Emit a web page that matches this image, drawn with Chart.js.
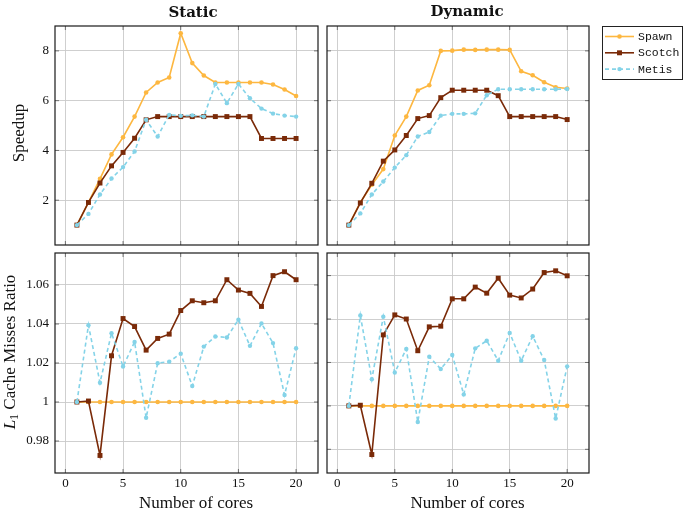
<!DOCTYPE html>
<html><head><meta charset="utf-8">
<script src="https://cdn.jsdelivr.net/npm/chart.js@4.4.1/dist/chart.umd.min.js"></script>
<style>
html,body{margin:0;padding:0;background:#fff;width:685px;height:514px;overflow:hidden}
canvas{position:absolute}
</style></head><body>
<canvas id="tl" width="322" height="249" style="left:0;top:0"></canvas>
<canvas id="tr" width="363" height="249" style="left:322px;top:0"></canvas>
<canvas id="bl" width="322" height="265" style="left:0;top:249px"></canvas>
<canvas id="br" width="363" height="265" style="left:322px;top:249px"></canvas>
<script>
// ---------- data ----------
const cores = [1,2,3,4,5,6,7,8,9,10,11,12,13,14,15,16,17,18,19,20];
const seriesNames = ['Spawn','Scotch','Metis'];
const xTickValues = [0,5,10,15,20];
const speedupTickValues = [2,4,6,8];
const l1TickValues = [0.98,1.00,1.02,1.04,1.06];

const staticSpeedupSpawn  = [1.00,1.91,2.86,3.84,4.53,5.36,6.33,6.73,6.93,8.71,7.51,7.01,6.73,6.73,6.73,6.73,6.73,6.65,6.45,6.19];
const staticSpeedupScotch = [1.00,1.91,2.69,3.38,3.92,4.49,5.23,5.36,5.36,5.36,5.36,5.36,5.36,5.36,5.36,5.36,4.48,4.48,4.48,4.48];
const staticSpeedupMetis  = [1.00,1.45,2.23,2.87,3.33,3.96,5.23,4.56,5.43,5.39,5.41,5.36,6.67,5.90,6.67,6.10,5.68,5.48,5.40,5.36];

const dynamicSpeedupSpawn  = [1.00,1.91,2.62,3.25,4.60,5.36,6.41,6.62,8.00,8.01,8.05,8.04,8.05,8.05,8.04,7.18,7.02,6.74,6.54,6.49];
const dynamicSpeedupScotch = [1.00,1.89,2.68,3.57,4.02,4.60,5.28,5.40,6.12,6.42,6.42,6.42,6.42,6.20,5.36,5.36,5.36,5.36,5.36,5.24];
const dynamicSpeedupMetis  = [1.00,1.47,2.23,2.75,3.31,3.81,4.56,4.74,5.40,5.47,5.47,5.49,6.22,6.46,6.46,6.46,6.46,6.46,6.46,6.47];

const staticL1Spawn  = [1,1,1,1,1,1,1,1,1,1,1,1,1,1,1,1,1,1,1,1];
const staticL1Scotch = [1.0000,1.0005,0.9726,1.0237,1.0428,1.0387,1.0266,1.0326,1.0348,1.0469,1.0519,1.0509,1.0519,1.0627,1.0574,1.0557,1.0490,1.0648,1.0668,1.0627];
const staticL1Metis  = [1.0000,1.0394,1.0099,1.0353,1.0182,1.0308,0.9919,1.0199,1.0207,1.0248,1.0082,1.0284,1.0336,1.0331,1.0422,1.0288,1.0403,1.0302,1.0036,1.0276];

const dynamicL1Spawn  = [1,1,1,1,1,1,1,1,1,1,1,1,1,1,1,1,1,1,1,1];
const dynamicL1Scotch = [1.0000,1.0003,0.9776,1.0327,1.0419,1.0400,1.0254,1.0364,1.0367,1.0493,1.0493,1.0547,1.0519,1.0588,1.0510,1.0497,1.0538,1.0614,1.0622,1.0599];
const dynamicL1Metis  = [1.0000,1.0416,1.0123,1.0411,1.0154,1.0262,0.9926,1.0226,1.0170,1.0234,1.0053,1.0265,1.0300,1.0208,1.0336,1.0208,1.0321,1.0211,0.9942,1.0182];

// ---------- styles ----------
const C_SPAWN = '#FDB740';
const C_SCOTCH = '#7A2A08';
const C_METIS = '#84D3E8';
const GRID = '#CACACA';
const TICKFONT = {family:'"Liberation Serif", serif', size:13};
const LABELFONT = '17px "Liberation Serif", serif';

const styles = {
  Spawn:  {color:C_SPAWN,  pointStyle:'circle', radius:2.3, dash:[],    order:2},
  Scotch: {color:C_SCOTCH, pointStyle:'rect',   radius:3.5, dash:[],    order:1},
  Metis:  {color:C_METIS,  pointStyle:'circle', radius:2.2, dash:[4,3], order:0}
};

function makeDataset(name, values){
  const s = styles[name];
  return {
    label:name,
    data: cores.map((c,i)=>({x:c, y:values[i]})),
    borderColor:s.color, backgroundColor:s.color,
    pointBackgroundColor:s.color, pointBorderColor:s.color,
    pointStyle:s.pointStyle, pointRadius:s.radius, pointBorderWidth:0,
    borderWidth:1.6, borderDash:s.dash, tension:0, order:s.order, fill:false
  };
}

// plugin: border, inward ticks, free text, legend
const panelDecor = {
  id:'panelDecor',
  afterDraw(chart, args, opts){
    const ctx = chart.ctx, a = chart.chartArea;
    const xs = chart.scales.x, ys = chart.scales.y;
    ctx.save();
    // inward ticks
    ctx.strokeStyle = '#555'; ctx.lineWidth = 0.8;
    ctx.beginPath();
    xs.ticks.forEach(t=>{
      const px = xs.getPixelForValue(t.value);
      ctx.moveTo(px, a.bottom); ctx.lineTo(px, a.bottom-4);
      ctx.moveTo(px, a.top); ctx.lineTo(px, a.top+4);
    });
    ys.ticks.forEach(t=>{
      const py = ys.getPixelForValue(t.value);
      ctx.moveTo(a.left, py); ctx.lineTo(a.left+4, py);
      ctx.moveTo(a.right, py); ctx.lineTo(a.right-4, py);
    });
    ctx.stroke();
    // border
    ctx.strokeStyle = '#1a1a1a'; ctx.lineWidth = 1.2;
    ctx.strokeRect(a.left, a.top, a.right-a.left, a.bottom-a.top);
    // texts
    (opts.texts||[]).forEach(t=>{
      ctx.save();
      ctx.translate(t.x, t.y);
      if (t.rot) ctx.rotate(t.rot);
      ctx.fillStyle = '#111';
      ctx.textBaseline = 'middle';
      const segs = t.segs || [{t:t.text, font:t.font}];
      let total = 0;
      segs.forEach(s=>{ ctx.font = s.font; total += ctx.measureText(s.t).width; });
      let cx = -total/2;
      ctx.textAlign = 'left';
      segs.forEach(s=>{
        ctx.font = s.font;
        ctx.fillText(s.t, cx, s.dy||0);
        cx += ctx.measureText(s.t).width;
      });
      ctx.restore();
    });
    // legend
    if (opts.legend){
      const L = opts.legend;
      ctx.fillStyle = '#fff';
      ctx.fillRect(L.x, L.y, L.w, L.h);
      ctx.strokeStyle = '#222'; ctx.lineWidth = 1;
      ctx.strokeRect(L.x+0.5, L.y+0.5, L.w, L.h);
      chart.data.datasets.forEach((d,i)=>{
        const s = styles[d.label];
        const y = L.y + L.first + i*L.step;
        ctx.strokeStyle = s.color; ctx.lineWidth = 1.6;
        ctx.setLineDash(s.dash);
        ctx.beginPath(); ctx.moveTo(L.x+3, y); ctx.lineTo(L.x+32, y); ctx.stroke();
        ctx.setLineDash([]);
        ctx.fillStyle = s.color;
        const mx = L.x+17.5;
        if (s.pointStyle==='rect'){ const h = s.radius*Math.SQRT1_2; ctx.fillRect(mx-h, y-h, 2*h, 2*h); }
        else { ctx.beginPath(); ctx.arc(mx, y, s.radius, 0, Math.PI*2); ctx.fill(); }
        ctx.fillStyle = '#111';
        ctx.font = '11.5px "Liberation Mono", monospace';
        ctx.textAlign = 'left'; ctx.textBaseline = 'middle';
        ctx.fillText(d.label, L.x+36, y+0.5);
      });
    }
    ctx.restore();
  }
};

function zeroPad(s){ s.paddingTop = 0; s.paddingBottom = 0; s.paddingLeft = 0; s.paddingRight = 0; }

function makePanel(id, cfg){
  return new Chart(document.getElementById(id), {
    type:'line',
    data:{datasets:[
      makeDataset('Spawn', cfg.spawn),
      makeDataset('Scotch', cfg.scotch),
      makeDataset('Metis', cfg.metis)
    ]},
    options:{
      responsive:false, animation:false, devicePixelRatio:1,
      layout:{padding:cfg.padding},
      plugins:{legend:{display:false}, tooltip:{enabled:false}, title:{display:false},
        panelDecor:{texts:cfg.texts, legend:cfg.legend}},
      scales:{
        x:{type:'linear', min:-0.9, max:21.9,
          afterBuildTicks:s=>{s.ticks = xTickValues.map(v=>({value:v}));},
          afterFit:s=>{s.height = cfg.xh; zeroPad(s);},
          ticks:{display:cfg.showX, padding:3, font:TICKFONT, color:'#111', maxRotation:0,
            callback:v=>String(v)},
          grid:{color:GRID, lineWidth:0.9, drawTicks:false}, border:{display:false}},
        y:{type:'linear', min:cfg.ymin, max:cfg.ymax,
          afterBuildTicks:s=>{s.ticks = cfg.yticks.map(v=>({value:v}));},
          afterFit:s=>{s.width = cfg.yw; zeroPad(s);},
          ticks:{display:cfg.showY, padding:6, font:TICKFONT, color:'#111',
            callback:v=>String(parseFloat(Number(v).toFixed(2)))},
          grid:{color:GRID, lineWidth:0.9, drawTicks:false}, border:{display:false}}
      }
    },
    plugins:[panelDecor]
  });
}

makePanel('tl', {
  spawn:staticSpeedupSpawn, scotch:staticSpeedupScotch, metis:staticSpeedupMetis,
  padding:{top:26,right:3,bottom:4,left:0}, xh:0, yw:55, showX:false, showY:true,
  ymin:0.2, ymax:9.0, yticks:speedupTickValues,
  texts:[
    {text:'Static', x:193, y:13, font:'bold 15px "DejaVu Serif", serif'},
    {text:'Speedup', x:20, y:133, rot:-Math.PI/2, font:LABELFONT}
  ]
});
makePanel('tr', {
  spawn:dynamicSpeedupSpawn, scotch:dynamicSpeedupScotch, metis:dynamicSpeedupMetis,
  padding:{top:26,right:96,bottom:4,left:5}, xh:0, yw:0, showX:false, showY:false,
  ymin:0.2, ymax:9.0, yticks:speedupTickValues,
  texts:[{text:'Dynamic', x:145, y:12, font:'bold 15px "DejaVu Serif", serif'}],
  legend:{x:280, y:26, w:80, h:53, first:10.5, step:16.3}
});
makePanel('bl', {
  spawn:staticL1Spawn, scotch:staticL1Scotch, metis:staticL1Metis,
  padding:{top:4,right:3,bottom:0,left:0}, xh:41, yw:55, showX:true, showY:true,
  ymin:0.9636, ymax:1.0764, yticks:l1TickValues,
  texts:[
    {x:11, y:103, rot:-Math.PI/2, segs:[
      {t:'L', font:'italic 17px "Liberation Serif", serif'},
      {t:'1', font:'12px "Liberation Serif", serif', dy:3.5},
      {t:' Cache Misses Ratio', font:LABELFONT}
    ]},
    {text:'Number of cores', x:196, y:255, font:LABELFONT}
  ]
});
makePanel('br', {
  spawn:dynamicL1Spawn, scotch:dynamicL1Scotch, metis:dynamicL1Metis,
  padding:{top:4,right:96,bottom:0,left:5}, xh:41, yw:0, showX:true, showY:false,
  ymin:0.9691, ymax:1.0704, yticks:l1TickValues,
  texts:[{text:'Number of cores', x:145.5, y:255, font:LABELFONT}]
});
</script>
</body></html>
